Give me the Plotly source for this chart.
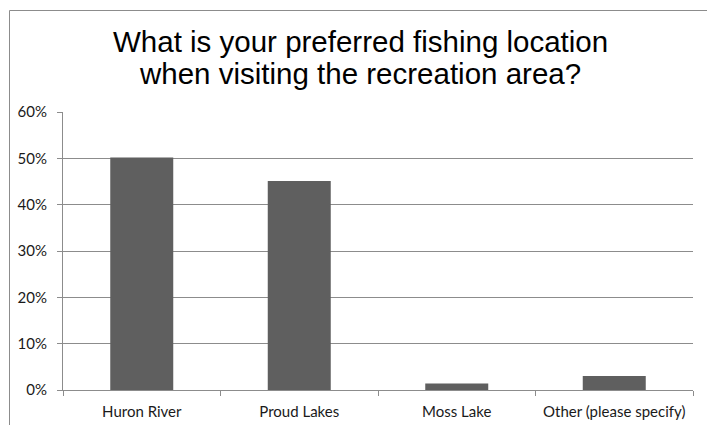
import plotly.graph_objects as go

categories = ["Huron River", "Proud Lakes", "Moss Lake", "Other (please specify)"]
values = [0.502, 0.451, 0.014, 0.030]
title_lines = ["What is your preferred fishing location", "when visiting the recreation area?"]

# page body has an 8px margin; work in absolute window pixels and convert
OFF = 8
W, H = 715 - OFF, 425 - OFF
PL, PR, PT, PB = 63, 693, 112, 390  # plot area in window pixels
L, R, T, B = PL - OFF, W - (PR - OFF), PT - OFF, H - (PB - OFF)
pw, ph = PR - PL, PB - PT

def px_x(x):
    return (x - PL) / pw

def px_y(y):
    return (PB - y) / ph

fig = go.Figure(go.Bar(x=categories, y=values, marker=dict(color="#5f5f5f", line=dict(width=0))))

grid = "#8c8c8c"
tickfont = dict(family="Lato, Carlito, Calibri, sans-serif", size=15, color="#1a1a1a")

fig.update_layout(
    width=W, height=H,
    margin=dict(l=L, r=R, t=T, b=B, pad=0, autoexpand=False),
    paper_bgcolor="white", plot_bgcolor="white",
    bargap=0.6, showlegend=False,
    xaxis=dict(showline=True, linecolor=grid, linewidth=1, ticks="outside", tickson="boundaries",
               ticklen=5, tickcolor=grid, tickfont=tickfont, showgrid=False, ticklabelstandoff=8,
               tickangle=0, automargin=False),
    yaxis=dict(range=[0, 0.6], dtick=0.1, tickformat=".0%", showline=True, linecolor=grid, linewidth=1,
               ticks="outside", ticklen=5, tickcolor=grid, gridcolor=grid, gridwidth=1,
               tickfont=tickfont, ticklabelstandoff=7, zeroline=False, automargin=False),
    shapes=[dict(type="rect", xref="paper", yref="paper", x0=px_x(9.5), x1=px_x(710.5),
                 y0=px_y(440), y1=px_y(10.5), line=dict(color="#8c8c8c", width=1), layer="below")],
)

title_font = dict(family="Liberation Sans, Arial, sans-serif", size=29.5, color="#000000")
for i, line in enumerate(title_lines):
    fig.add_annotation(text=line, xref="paper", yref="paper", x=px_x(360), y=px_y(41 + i * 32.4),
                       xanchor="center", yanchor="middle", showarrow=False, font=title_font)

fig.write_html("out.html")
